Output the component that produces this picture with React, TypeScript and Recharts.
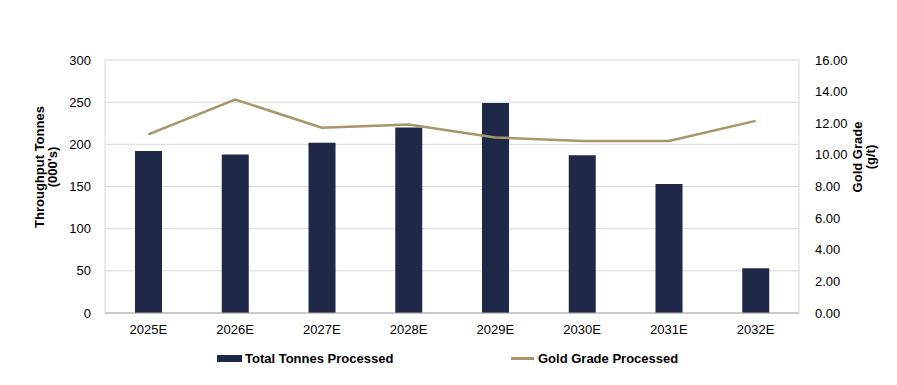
import { ComposedChart, Bar, Line, XAxis, YAxis, CartesianGrid, Legend, Label } from 'recharts';

const years = ['2025E', '2026E', '2027E', '2028E', '2029E', '2030E', '2031E', '2032E'];
const tonnes = [192, 188, 202, 220, 249, 187, 153, 53];
const grade = [11.3, 13.5, 11.72, 11.92, 11.1, 10.88, 10.88, 12.15];
const leftTicks = [0, 50, 100, 150, 200, 250, 300];
const rightTicks = [0, 2, 4, 6, 8, 10, 12, 14, 16];

const NAVY = '#1f2847';
const GOLD = '#a8956a';
const FONT = '"Liberation Sans", Arial, sans-serif';

const data = years.map((year, i) => ({ year, tonnes: tonnes[i], grade: grade[i] }));

const AxisTitle = ({ lines, x, y }: { lines: string[]; x: number; y: number }) => (
  <text
    transform={`rotate(-90, ${x}, ${y})`}
    x={x}
    y={y}
    textAnchor="middle"
    fontFamily={FONT}
    fontSize={13}
    fontWeight="bold"
    fill="#000"
  >
    {lines.map((l, i) => (
      <tspan key={l} x={x} dy={i === 0 ? 0 : 13}>
        {l}
      </tspan>
    ))}
  </text>
);

const LegendContent = () => (
  <div style={{ position: 'relative', width: 897, height: 24, fontFamily: FONT, fontSize: 13, fontWeight: 'bold', color: '#000' }}>
    <div style={{ position: 'absolute', left: 217, top: 6, display: 'flex', alignItems: 'center' }}>
      <span style={{ display: 'inline-block', width: 25, height: 7, background: NAVY, marginRight: 3 }} />
      <span>Total Tonnes Processed</span>
    </div>
    <div style={{ position: 'absolute', left: 511, top: 6, display: 'flex', alignItems: 'center' }}>
      <span style={{ display: 'inline-block', width: 23, height: 3, background: GOLD, marginRight: 4 }} />
      <span>Gold Grade Processed</span>
    </div>
  </div>
);

export default function App() {
  return (
    <div style={{ width: 897, height: 385, margin: -8, background: '#fff' }}>
      <ComposedChart width={897} height={385} data={data} margin={{ top: 60, right: 0, left: 0, bottom: 18 }} barCategoryGap="34%">
        <CartesianGrid vertical={false} stroke="#d9d9d9" yAxisId="left" />
        <XAxis
          dataKey="year"
          tickLine={false}
          axisLine={{ stroke: '#a6a6a6' }}
          tick={{ fontFamily: FONT, fontSize: 13, fill: '#000' }}
          tickMargin={6}
          height={30}
        />
        <YAxis
          yAxisId="left"
          width={105}
          domain={[0, 300]}
          ticks={leftTicks}
          tickLine={false}
          axisLine={{ stroke: '#d9d9d9' }}
          tick={{ fontFamily: FONT, fontSize: 13, fill: '#000' }}
          tickMargin={8}
        >
          <Label content={() => <AxisTitle lines={['Throughput Tonnes', "(000's)"]} x={44} y={167} />} />
        </YAxis>
        <YAxis
          yAxisId="right"
          orientation="right"
          width={98}
          domain={[0, 16]}
          ticks={rightTicks}
          tickFormatter={(v: number) => v.toFixed(2)}
          tickLine={false}
          axisLine={{ stroke: '#d9d9d9' }}
          tick={{ fontFamily: FONT, fontSize: 13, fill: '#000', textAnchor: 'start' }}
          tickMargin={10}
        >
          <Label content={() => <AxisTitle lines={['Gold Grade', '(g/t)']} x={862} y={157} />} />
        </YAxis>
        <Legend verticalAlign="bottom" wrapperStyle={{ left: 0, top: 345, width: 897 }} content={() => <LegendContent />} />
        <Bar yAxisId="left" dataKey="tonnes" name="Total Tonnes Processed" fill={NAVY} barSize={27} isAnimationActive={false} />
        <Line
          yAxisId="right"
          type="linear"
          dataKey="grade"
          name="Gold Grade Processed"
          stroke={GOLD}
          strokeWidth={2.5}
          dot={false}
          isAnimationActive={false}
        />
      </ComposedChart>
    </div>
  );
}
